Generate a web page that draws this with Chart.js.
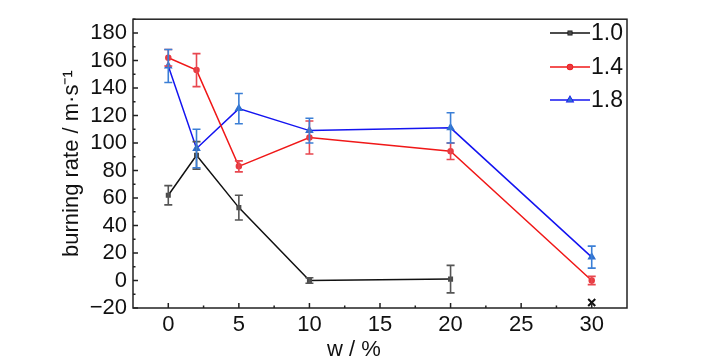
<!DOCTYPE html>
<html>
<head>
<meta charset="utf-8">
<script src="https://cdn.jsdelivr.net/npm/chart.js@4"></script>
<style>
  html, body { margin: 0; padding: 0; background: #fff; }
  #wrap { width: 728px; height: 364px; }
</style>
</head>
<body>
<div id="wrap"><canvas id="burnChart" width="728" height="364"></canvas></div>
<script>
// data
const w10 = [0, 2, 5, 10, 20];
const rate10 = [62, 91, 53, 0, 1];
const err10 = [7, 10, 9, 2, 10];

const w14 = [0, 2, 5, 10, 20, 30];
const rate14 = [162, 153, 83, 104, 94, 0];
const err14 = [6, 12, 4, 12, 6, 3];

const w18 = [0, 2, 5, 10, 20, 30];
const rate18 = [156, 96, 125, 109, 111, 17];
const err18 = [12, 14, 11, 9, 11, 8];

// no burning marker (x)
const wNone = [30];
const rateNone = [-16];

const seriesLabels = ["1.0", "1.4", "1.8"];
const xTicks = [0, 5, 10, 15, 20, 25, 30];
const yTicks = [-20, 0, 20, 40, 60, 80, 100, 120, 140, 160, 180];

const FONT = "'Liberation Sans Narrow', 'Liberation Sans', Arial, sans-serif";

function pts(xs, ys) {
    return xs.map((x, i) => ({ x: x, y: ys[i] }));
}

const errorBars = {
    id: 'errorBars',
    afterDatasetsDraw(chart) {
        const ctx = chart.ctx;
        const xs = chart.scales.x, ys = chart.scales.y;
        chart.data.datasets.forEach(ds => {
            if (!ds.errors) return;
            ctx.save();
            ctx.strokeStyle = ds.errorColor;
            ctx.lineWidth = 1.6;
            ds.data.forEach((p, i) => {
                const e = ds.errors[i];
                const px = xs.getPixelForValue(p.x);
                const top = ys.getPixelForValue(p.y + e);
                const bot = ys.getPixelForValue(p.y - e);
                ctx.beginPath();
                ctx.moveTo(px, top); ctx.lineTo(px, bot);
                ctx.moveTo(px - 4, top); ctx.lineTo(px + 4, top);
                ctx.moveTo(px - 4, bot); ctx.lineTo(px + 4, bot);
                ctx.stroke();
            });
            ctx.restore();
        });
    }
};

// frame, inward ticks, legend, x title
const frame = {
    id: 'frame',
    afterDraw(chart) {
        const ctx = chart.ctx;
        const a = chart.chartArea;
        const xs = chart.scales.x, ys = chart.scales.y;
        ctx.save();
        ctx.strokeStyle = '#222';
        ctx.lineWidth = 1.5;
        ctx.strokeRect(a.left, a.top, a.right - a.left, a.bottom - a.top);
        ctx.beginPath();
        for (let v = 0; v <= 30; v += 2.5) {
            const px = xs.getPixelForValue(v);
            const len = (v % 5 === 0) ? 5 : 2.5;
            ctx.moveTo(px, a.bottom); ctx.lineTo(px, a.bottom - len);
        }
        for (let v = -20; v <= 190; v += 10) {
            const py = ys.getPixelForValue(v);
            const len = (v % 20 === 0) ? 5 : 2.5;
            ctx.moveTo(a.left, py); ctx.lineTo(a.left + len, py);
        }
        ctx.stroke();

        // legend
        ctx.font = '23px ' + FONT;
        ctx.textBaseline = 'middle';
        ctx.textAlign = 'left';
        const lx = 550, ly = [33, 67, 100];
        chart.data.datasets.slice(0, 3).forEach((ds, i) => {
            ctx.strokeStyle = ds.borderColor;
            ctx.lineWidth = 1.5;
            ctx.beginPath();
            ctx.moveTo(lx, ly[i]); ctx.lineTo(lx + 40, ly[i]);
            ctx.stroke();
            Chart.helpers.drawPoint(ctx, {
                pointStyle: ds.pointStyle, radius: ds.pointRadius, borderWidth: 1, rotation: 0
            }, lx + 20, ly[i]);
            ctx.fillStyle = ds.pointBackgroundColor;
            ctx.fill();
            ctx.fillStyle = '#111';
            ctx.fillText(seriesLabels[i], lx + 41, ly[i] + 1);
        });

        // x title
        ctx.font = '22px ' + FONT;
        ctx.textAlign = 'center';
        ctx.fillText('w / %', a.left + 0.447 * (a.right - a.left), 350);
        ctx.restore();
    }
};

new Chart(document.getElementById('burnChart'), {
    type: 'line',
    data: {
        datasets: [
            {
                label: seriesLabels[0],
                data: pts(w10, rate10),
                errors: err10,
                errorColor: '#555555',
                borderColor: '#111111',
                borderWidth: 1.5,
                pointStyle: 'rect',
                pointRadius: 2.5,
                pointBackgroundColor: '#4a4a4a',
                pointBorderColor: '#4a4a4a',
                tension: 0
            },
            {
                label: seriesLabels[1],
                data: pts(w14, rate14),
                errors: err14,
                errorColor: '#e8474f',
                borderColor: '#f01818',
                borderWidth: 1.5,
                pointStyle: 'circle',
                pointRadius: 2.5,
                pointBackgroundColor: '#e83a40',
                pointBorderColor: '#e83a40',
                tension: 0
            },
            {
                label: seriesLabels[2],
                data: pts(w18, rate18),
                errors: err18,
                errorColor: '#3b7fd6',
                borderColor: '#1414f0',
                borderWidth: 1.5,
                pointStyle: 'triangle',
                pointRadius: 3.5,
                pointBackgroundColor: '#2e6fd0',
                pointBorderColor: '#2e6fd0',
                tension: 0
            },
            {
                label: 'none',
                data: pts(wNone, rateNone),
                showLine: false,
                pointStyle: 'crossRot',
                pointRadius: 5,
                pointBorderWidth: 2,
                pointBorderColor: '#111111',
                borderColor: '#111111'
            }
        ]
    },
    options: {
        responsive: false,
        animation: false,
        layout: { padding: { top: 14, right: 101, left: 45, bottom: 0 } },
        plugins: {
            legend: { display: false },
            tooltip: { enabled: false }
        },
        scales: {
            x: {
                type: 'linear',
                min: -2.5,
                max: 32.5,
                grid: { display: false, drawTicks: false },
                border: { display: false },
                afterBuildTicks: s => { s.ticks = xTicks.map(v => ({ value: v })); },
                ticks: {
                    padding: 4,
                    color: '#111',
                    font: { family: FONT, size: 22 },
                    maxRotation: 0,
                    autoSkip: false
                },
                afterFit: s => { s.height = 56; }
            },
            y: {
                min: -20,
                max: 190,
                grid: { display: false, drawTicks: false },
                border: { display: false },
                afterBuildTicks: s => { s.ticks = yTicks.map(v => ({ value: v })); },
                ticks: {
                    padding: 6,
                    color: '#111',
                    font: { family: FONT, size: 22 },
                    autoSkip: false,
                    callback: v => String(v).replace('-', '\u2212')
                },
                title: {
                    display: true,
                    text: 'burning rate / m\u00b7s\u207b\u00b9',
                    color: '#111',
                    font: { family: FONT, size: 22 },
                    padding: { top: 14, bottom: 0 }
                },
                afterFit: s => { s.width = 88; }
            }
        }
    },
    plugins: [errorBars, frame]
});
</script>
</body>
</html>
